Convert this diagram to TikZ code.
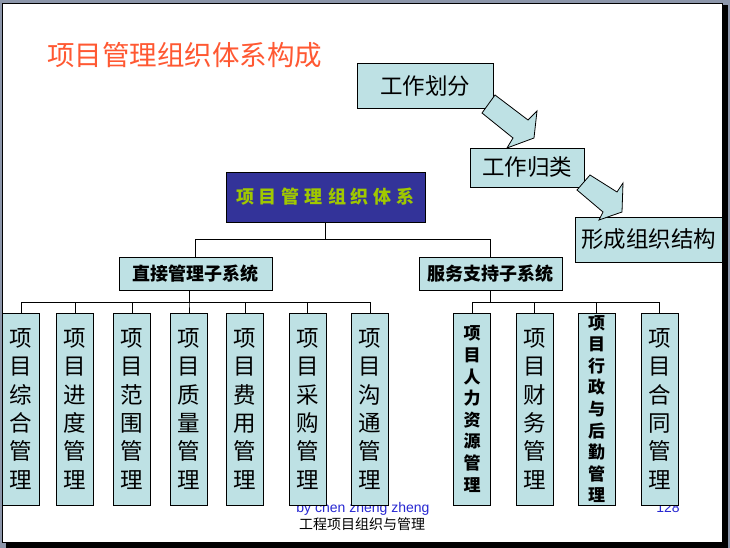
\documentclass[tikz,border=0pt]{standalone}
\usepackage{fontspec}
\setmainfont{Liberation Sans}
\newfontfamily\cjk{Noto Sans CJK SC}
\definecolor{boxfill}{RGB}{190,225,228}
\definecolor{slidegray}{RGB}{140,150,170}
\definecolor{titlered}{RGB}{255,88,50}
\definecolor{headblue}{RGB}{51,51,153}
\definecolor{headtext}{RGB}{160,200,0}
\definecolor{footblue}{RGB}{40,40,210}

\begin{document}
\begin{tikzpicture}[x=1pt,y=-1pt,line width=.9pt,
  stepbox/.style={draw,fill=boxfill,inner sep=0pt,font=\cjk\fontsize{22.5}{24}\selectfont},
  subsys/.style={draw,fill=boxfill,inner sep=0pt,minimum height=33,font=\cjk\bfseries\fontsize{18}{20}\selectfont},
  mgmt/.style={draw,fill=boxfill,inner sep=0pt,minimum width=37,minimum height=192,align=center,font=\cjk\fontsize{22.5}{28.3}\selectfont},
  mgmtsm/.style={mgmt,font=\cjk\bfseries\fontsize{17}{21.6}\selectfont},
  blockarrow/.style={draw,fill=boxfill,line width=.8pt,line join=miter}]
\useasboundingbox (0,0) rectangle (730,548);
% slide: grey desk, black drop shadow, white page
\fill[slidegray] (0,0) rectangle (730,548);
\fill[black] (6,5) rectangle (728,548);
\draw[fill=white,line width=1pt] (2.5,3.5) rectangle (722.5,542);
\node[anchor=west,inner sep=0pt,text=titlered,font=\cjk\fontsize{27.5}{28}\selectfont] (title) at (47,55) {项目管理组织体系构成};
% footer (partly covered by the boxes)
\node[inner sep=0pt,text=footblue,font=\fontsize{14}{16}\selectfont] (byline) at (363,509) {by chen zheng zheng};
\node[inner sep=0pt,font=\cjk\fontsize{14}{16}\selectfont] (course) at (362,524) {工程项目组织与管理};
\node[inner sep=0pt,text=footblue,font=\fontsize{14}{16}\selectfont] (pageno) at (668,508) {128};
% three steps, joined by block arrows
\node[stepbox,minimum width=136,minimum height=45] (split) at (425,85.5) {工作划分};
\node[stepbox,minimum width=114,minimum height=39] (group) at (527,167.5) {工作归类};
\node[stepbox,minimum width=147,minimum height=45] (form) at (648.5,239.5) {形成组织结构};
\draw[blockarrow] (495,95) -- (528,120) -- (537,111) -- (534,138) -- (507,148) -- (513,138) -- (482,113) -- cycle;
\draw[blockarrow] (590,175) -- (617,192) -- (623,183) -- (622,212) -- (599,220) -- (603,212) -- (577,190) -- cycle;
% the tree
\node[draw,fill=headblue,text=headtext,minimum width=199,minimum height=50,inner sep=0pt,
  font=\cjk\bfseries\fontsize{18}{20}\selectfont] (top) at (325.5,197)
  {项\kern5pt 目\kern5pt 管\kern5pt 理\kern5pt 组\kern5pt 织\kern5pt 体\kern5pt 系};
\node[subsys,minimum width=153] (dsub) at (195.5,273.5) {直接管理子系统};
\node[subsys,minimum width=143] (ssub) at (490.5,273.5) {服务支持子系统};
\foreach \s in {dsub,ssub} \draw (top.south) -- ++(0,17) -| (\s.north);
\foreach \x/\t [count=\i] in {21/{项\\目\\综\\合\\管\\理},75/{项\\目\\进\\度\\管\\理},
    132/{项\\目\\范\\围\\管\\理},189/{项\\目\\质\\量\\管\\理},245/{项\\目\\费\\用\\管\\理},
    307.5/{项\\目\\采\\购\\管\\理},370/{项\\目\\沟\\通\\管\\理}}
  \node[mgmt] (L\i) at (\x,409) {\t};
\foreach \x/\s/\t [count=\i] in {472/mgmtsm/{项\\目\\人\\力\\资\\源\\管\\理},534.5/mgmt/{项\\目\\财\\务\\管\\理},
    596.5/mgmtsm/{项\\目\\行\\政\\与\\后\\勤\\管\\理},659.5/mgmt/{项\\目\\合\\同\\管\\理}}
  \node[\s] (R\i) at (\x,409) {\t};
\foreach \i in {1,...,7} \draw (dsub.south -| L4.north) -- ++(0,12) -| (L\i.north);
\foreach \i in {1,...,4} \draw (ssub.south) -- ++(0,12) -| (R\i.north);
\end{tikzpicture}
\end{document}
